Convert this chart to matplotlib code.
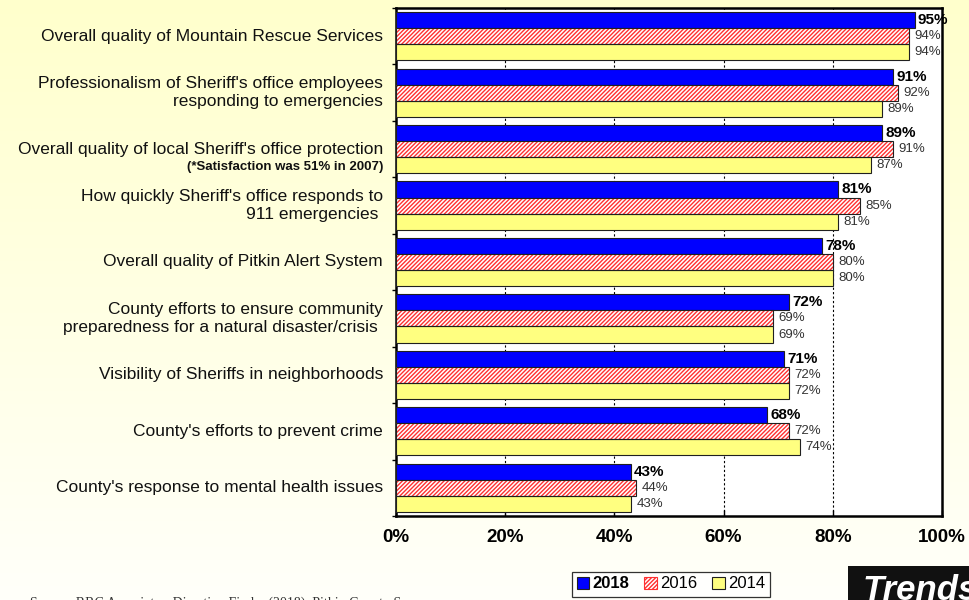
import numpy as np
import matplotlib
matplotlib.use("Agg")
import matplotlib.pyplot as plt
from matplotlib.patches import Patch, Rectangle
from matplotlib import transforms

plt.rcParams["font.family"] = ["Liberation Sans", "DejaVu Sans"]
plt.rcParams["hatch.linewidth"] = 1.0

# survey items, top to bottom
categories = [
    "Overall quality of Mountain Rescue Services",
    "Professionalism of Sheriff's office employees\nresponding to emergencies",
    "Overall quality of local Sheriff's office protection",
    "How quickly Sheriff's office responds to\n911 emergencies ",
    "Overall quality of Pitkin Alert System",
    "County efforts to ensure community\npreparedness for a natural disaster/crisis ",
    "Visibility of Sheriffs in neighborhoods",
    "County's efforts to prevent crime",
    "County's response to mental health issues",
]
note_2007 = "(*Satisfaction was 51% in 2007)"

vals_2018 = [95, 91, 89, 81, 78, 72, 71, 68, 43]
vals_2016 = [94, 92, 91, 85, 80, 69, 72, 72, 44]
vals_2014 = [94, 89, 87, 81, 80, 69, 72, 74, 43]
years = ["2018", "2016", "2014"]
xticks = [0, 20, 40, 60, 80, 100]

BLUE = "#0000ff"
RED = "#ff3030"
YELLOW = "#ffff80"
EDGE = "#202020"

fig = plt.figure(figsize=(9.69, 6.0), dpi=100)

# soft yellow backdrop fading toward white at the bottom
bg = fig.add_axes([0, 0, 1, 1], zorder=-10)
top_c = np.array([255, 255, 204]) / 255
bot_c = np.array([255, 255, 250]) / 255
t = np.linspace(0, 1, 256)[:, None]
grad = (top_c * (1 - t) + bot_c * t)[:, None, :]
bg.imshow(grad, aspect="auto", extent=[0, 1, 0, 1])
bg.axis("off")

ax = fig.add_axes([396 / 969, 1 - 516 / 600, (942 - 396) / 969, (516 - 8) / 600])
ax.set_facecolor("white")

y = np.arange(len(categories))
h = 0.285

# 2018 solid blue
ax.barh(y - h, vals_2018, height=h, color=BLUE, edgecolor=EDGE, linewidth=0.8, zorder=3)
# 2016 red hatch on white, then a dark outline on top
ax.barh(y, vals_2016, height=h, color="white", edgecolor=RED, hatch="////////", linewidth=0, zorder=3)
ax.barh(y, vals_2016, height=h, fill=False, edgecolor=EDGE, linewidth=0.8, zorder=4)
# 2014 pale yellow
ax.barh(y + h, vals_2014, height=h, color=YELLOW, edgecolor=EDGE, linewidth=0.8, zorder=3)

for i in range(len(categories)):
    ax.text(vals_2018[i] + 0.6, y[i] - h, f"{vals_2018[i]}%", va="center", ha="left",
            fontsize=11, fontweight="bold", color="black", clip_on=False, zorder=5)
    ax.text(vals_2016[i] + 1.0, y[i], f"{vals_2016[i]}%", va="center", ha="left",
            fontsize=9.5, color="#333333", clip_on=False, zorder=5)
    ax.text(vals_2014[i] + 1.0, y[i] + h, f"{vals_2014[i]}%", va="center", ha="left",
            fontsize=9.5, color="#333333", clip_on=False, zorder=5)

ax.set_xlim(0, 100)
ax.set_ylim(len(categories) - 0.5, -0.5)

ax.set_xticks(xticks)
ax.set_xticklabels([f"{v}%" for v in xticks], fontsize=13.5, fontweight="bold")
ax.tick_params(axis="x", direction="in", length=4, width=1, pad=9)
for v in xticks[1:-1]:
    ax.axvline(v, color="black", linestyle=(0, (2, 2)), linewidth=0.8, zorder=1)

ax.set_yticks(np.arange(len(categories) + 1) - 0.5)
ax.set_yticklabels([])
ax.tick_params(axis="y", direction="out", length=3, width=1)

for s in ax.spines.values():
    s.set_linewidth(1.8)
    s.set_color("black")

# category labels, right aligned next to the axis
trans = transforms.blended_transform_factory(fig.transFigure, ax.transData)
lab_x = 383 / 969
for i, lab in enumerate(categories):
    if i == 2:
        ax.text(lab_x, y[i], lab, transform=trans, ha="right", va="center",
                fontsize=12.5, color="#111111")
        ax.text(lab_x, y[i] + 0.31, note_2007, transform=trans, ha="right", va="center",
                fontsize=9.5, fontweight="bold", color="#111111")
    else:
        ax.text(lab_x, y[i], lab, transform=trans, ha="right", va="center",
                fontsize=12.5, color="#111111", linespacing=1.25)

# legend
handles = [
    Patch(facecolor=BLUE, edgecolor=EDGE, linewidth=0.8),
    Patch(facecolor="white", edgecolor=RED, hatch="////////", linewidth=0.8),
    Patch(facecolor=YELLOW, edgecolor=EDGE, linewidth=0.8),
]
leg = fig.legend(handles, years, loc="center", bbox_to_anchor=(671 / 969, 1 - 584 / 600),
                 ncol=3, fontsize=12, frameon=True, fancybox=False, handlelength=0.75,
                 handleheight=0.75, handletextpad=0.2, columnspacing=0.9,
                 borderpad=0.3, borderaxespad=0)
leg.get_frame().set_edgecolor("black")
leg.get_frame().set_linewidth(0.9)
leg.get_texts()[0].set_fontweight("bold")

# "Trends" tag in the bottom right corner
fig.patches.append(Rectangle((848 / 969, 0), 0.2, 34 / 600, transform=fig.transFigure,
                             facecolor="#111111", edgecolor="none", zorder=5))
fig.text(863 / 969, 1 - 591 / 600, "Trends", color="white", fontsize=25,
         fontweight="bold", style="italic", ha="left", va="center", zorder=6)

fig.text(30 / 969, 3 / 600, "Source: RRC Associates, Direction Finder (2018), Pitkin County Survey",
         family="Liberation Serif", fontsize=10, color="#333333", ha="left", va="top")

fig.savefig("out.png", dpi=100)
